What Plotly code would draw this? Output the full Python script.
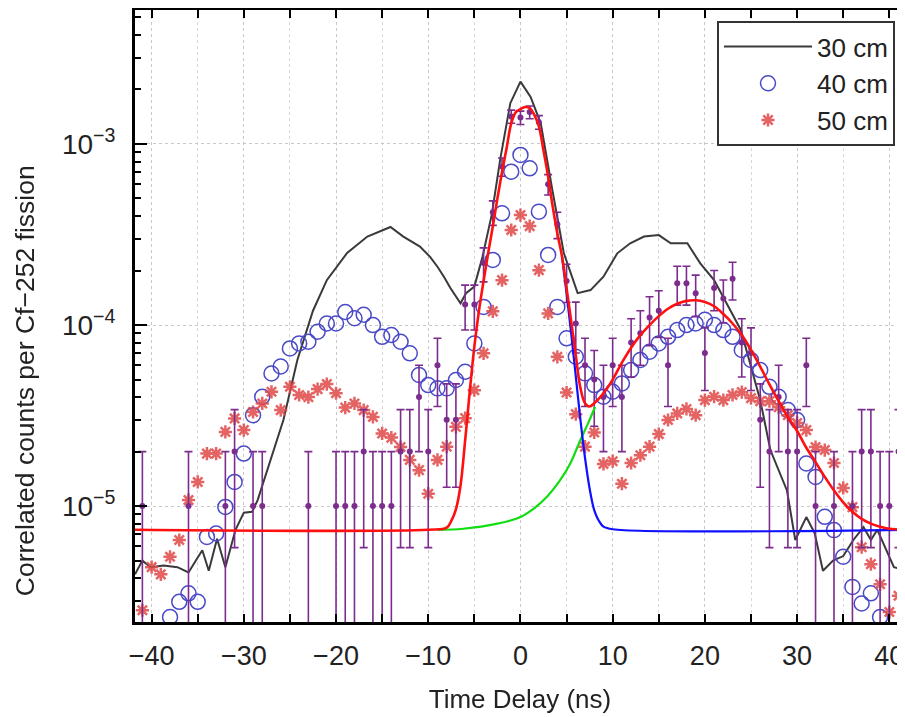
import plotly.graph_objects as go

# ---- 30 cm (line) ----
x30 = [-41.8, -41.0, -40.1, -38.7, -37.2, -36.0, -35.0, -34.5, -33.8, -32.9, -32.0, -30.9, -30.0,
       -29.1, -28.5, -27.1, -25.7, -24.2, -22.5, -21.0, -18.8, -16.6, -14.1, -12.7, -10.9, -9.8,
       -9.0, -8.3, -7.6, -6.5, -5.9, -5.0, -4.1, -3.1, -2.2, -1.1, 0.0, 1.1, 2.2, 3.4, 4.7, 6.2,
       7.6, 9.0, 10.5, 11.9, 13.4, 15.0, 16.3, 18.1, 19.5, 21.0, 22.0, 23.9, 26.0, 27.1, 28.9,
       29.8, 31.0, 31.9, 32.8, 33.9, 35.0, 36.1, 37.2, 38.0, 38.7, 39.8, 40.5, 41.8]
y30 = [4.2e-6, 5.0e-6, 4.6e-6, 4.7e-6, 4.6e-6, 4.3e-6, 5.2e-6, 5.7e-6, 4.4e-6, 6.6e-6, 4.6e-6,
       7.4e-6, 9.2e-6, 9.3e-6, 1.08e-5, 1.8e-5, 3.0e-5, 6.4e-5, 1.2e-4, 1.77e-4, 2.5e-4, 3.08e-4,
       3.48e-4, 3.08e-4, 2.71e-4, 2.38e-4, 2.1e-4, 1.85e-4, 1.6e-4, 1.32e-4, 1.5e-4, 1.63e-4,
       2.4e-4, 4.1e-4, 8.2e-4, 1.68e-3, 2.21e-3, 1.82e-3, 1.3e-3, 5.8e-4, 2.5e-4, 1.5e-4,
       1.56e-4, 1.85e-4, 2.49e-4, 2.83e-4, 3.08e-4, 3.14e-4, 2.83e-4, 2.83e-4, 2.19e-4, 1.77e-4,
       1.43e-4, 9.4e-5, 3.85e-5, 2.04e-5, 1.22e-5, 6.5e-6, 8.7e-6, 7.1e-6, 4.4e-6, 5.0e-6,
       5.3e-6, 6.5e-6, 7.66e-6, 6.5e-6, 7.4e-6, 5.5e-6, 4.6e-6, 4.4e-6]

# ---- 40 cm (open circles) ----
x40 = list(range(-38, 40))
y40 = [2.44e-6, 2.96e-6, 3.3e-6, 2.96e-6, 6.76e-6, 7.06e-6, 9.9e-6, 1.36e-5, 1.95e-5, 3.18e-5,
       4.02e-5, 5.4e-5, 5.9e-5, 7.43e-5, 7.92e-5, 8.09e-5, 9.18e-5, 1.02e-4, 1.02e-4, 1.18e-4,
       1.09e-4, 1.14e-4, 1.0e-4, 8.61e-5, 8.81e-5, 8.09e-5, 6.98e-5, 5.3e-5, 4.66e-5, 4.47e-5,
       4.47e-5, 4.97e-5, 5.52e-5, 7.92e-5, 1.26e-4, 2.29e-4, 4.14e-4, 7.03e-4, 8.7e-4, 7.34e-4,
       4.23e-4, 2.44e-4, 1.26e-4, 8.45e-5, 6.68e-5, 5.41e-5, 4.66e-5, 4.02e-5, 4.28e-5, 4.76e-5,
       5.64e-5, 6.41e-5, 7.12e-5, 7.92e-5, 8.61e-5, 9.38e-5, 1.0e-4, 1.02e-4, 1.07e-4, 1.0e-4,
       9.38e-5, 8.61e-5, 7.28e-5, 6.41e-5, 5.64e-5, 4.56e-5, 4.02e-5, 3.39e-5, 2.99e-5, 1.72e-5,
       1.45e-5, 8.73e-6, 7.37e-6, 5.25e-6, 3.58e-6, 2.9e-6, 3.3e-6, 2.44e-6]

# ---- 50 cm (red stars) ----
x50 = list(range(-41, 42))
y50 = [2.66e-6, 4.6e-6, 4.2e-6, 5.25e-6, 6.5e-6, 1.08e-5, 1.36e-5, 1.95e-5, 1.95e-5, 2.57e-5,
       3.05e-5, 2.63e-5, 3.31e-5, 3.69e-5, 4.28e-5, 3.39e-5, 4.56e-5, 4.11e-5, 4.0e-5, 4.43e-5,
       4.72e-5, 4.2e-5, 3.5e-5, 3.69e-5, 3.39e-5, 3.11e-5, 2.52e-5, 2.39e-5, 2.12e-5, 1.8e-5,
       1.58e-5, 1.17e-5, 1.8e-5, 2.13e-5, 2.74e-5, 3.06e-5, 4.37e-5, 6.98e-5, 1.19e-4, 1.77e-4,
       3.35e-4, 4.05e-4, 3.52e-4, 2.01e-4, 1.16e-4, 6.68e-5, 4.24e-5, 3.22e-5, 2.13e-5, 2.55e-5,
       1.71e-5, 1.77e-5, 1.33e-5, 1.73e-5, 1.91e-5, 2.13e-5, 2.5e-5, 2.99e-5, 3.25e-5, 3.44e-5,
       3.18e-5, 3.85e-5, 4.02e-5, 3.85e-5, 4.11e-5, 4.26e-5, 3.95e-5, 3.8e-5, 3.8e-5, 3.52e-5,
       3.18e-5, 2.88e-5, 2.63e-5, 2.12e-5, 2.04e-5, 1.73e-5, 1.26e-5, 9.87e-6, 5.93e-6, 4.78e-6,
       3.7e-6, 2.6e-6, 3.2e-6]

# ---- measured data with error bars (purple) ----
xm = [-41, -36, -32, -31, -29, -28, -23, -20, -19, -18, -17, -16, -15, -14, -13, -12, -11, -10,
      -9, -8, -7, -6, -5, -4, -3, -2, -1, 0, 1, 2, 3, 4, 5, 6, 7, 8, 9, 10, 11, 12, 13, 14, 15,
      16, 17, 18, 19, 20, 21, 22, 23, 24, 25, 26, 27, 28, 29, 30, 31, 32, 34, 36, 37, 38, 39, 40, 41]
ym = [1e-5, 1e-5, 1e-5, 2e-5, 1e-5, 1e-5, 1e-5, 1e-5, 1e-5, 1e-5, 2e-5, 1e-5, 1e-5, 1e-5, 2e-5,
      2e-5, 4e-5, 2e-5, 6e-5, 3e-5, 3e-5, 1.3e-4, 1.3e-4, 2.2e-4, 4.2e-4, 7.5e-4, 1.42e-3, 1.4e-3,
      1.5e-3, 1.32e-3, 6.0e-4, 3.6e-4, 1.75e-4, 1.02e-4, 6e-5, 5e-5, 4e-5, 6e-5, 4e-5, 8e-5, 9e-5,
      1.1e-4, 1.2e-4, 6e-5, 1.7e-4, 1.7e-4, 1.5e-4, 7e-5, 1.6e-4, 1.4e-4, 1.8e-4, 8e-5, 7e-5,
      3e-5, 2e-5, 4e-5, 2e-5, 2e-5, 6e-5, 1e-5, 1e-5, 1e-5, 2e-5, 2e-5, 1e-5, 1e-5, 2e-5]
em = [1e-5, 1e-5, 1e-5, 1.41e-5, 1e-5, 1e-5, 1e-5, 1e-5, 1e-5, 1e-5, 1.41e-5, 1e-5, 1e-5, 1e-5,
      1.41e-5, 1.41e-5, 2e-5, 1.41e-5, 2.45e-5, 1.73e-5, 1.73e-5, 3.61e-5, 3.61e-5, 4.69e-5,
      6.48e-5, 8.66e-5, 1.19e-4, 1.18e-4, 1.22e-4, 1.15e-4, 7.75e-5, 6.0e-5, 4.18e-5, 3.19e-5,
      2.45e-5, 2.24e-5, 2e-5, 2.45e-5, 2e-5, 2.83e-5, 3e-5, 3.32e-5, 3.46e-5, 2.45e-5, 4.12e-5,
      4.12e-5, 3.87e-5, 2.65e-5, 4e-5, 3.74e-5, 4.24e-5, 2.83e-5, 2.65e-5, 1.73e-5, 1.41e-5,
      2e-5, 1.41e-5, 1.41e-5, 2.45e-5, 1e-5, 1e-5, 1e-5, 1.41e-5, 1.41e-5, 1e-5, 1e-5, 1.41e-5]

# ---- fit curves ----
xfit = [-41.8, -10, -8, -7.5, -7, -6.5, -6, -5.5, -5, -4.5, -4, -3.5, -3, -2.5, -2, -1.5, -1, -0.5,
        0, 0.5, 1, 1.5, 2, 2.5, 3, 3.5, 4, 4.5, 5, 5.5, 6, 6.5, 7, 7.5, 8, 9, 10, 11, 12, 13, 14,
        15, 16, 17, 18, 19, 20, 21, 22, 23, 24, 25, 26, 27, 28, 29, 30, 31, 32, 33, 34, 35, 36, 37,
        38, 39, 40, 41.8]
yfit = [7.4e-6, 7.4e-6, 7.6e-6, 8.3e-6, 9.6e-6, 1.3e-5, 2.3e-5, 4.3e-5, 7.6e-5, 1.2e-4, 1.75e-4,
        2.5e-4, 3.5e-4, 5.0e-4, 7.0e-4, 9.5e-4, 1.3e-3, 1.5e-3, 1.56e-3, 1.6e-3, 1.58e-3, 1.45e-3,
        1.25e-3, 9.2e-4, 6.6e-4, 4.5e-4, 3.2e-4, 2.4e-4, 1.6e-4, 1.05e-4, 6.8e-5, 4.5e-5, 3.7e-5,
        3.55e-5, 3.7e-5, 4.2e-5, 5.0e-5, 6.2e-5, 7.5e-5, 8.8e-5, 1.0e-4, 1.12e-4, 1.23e-4, 1.31e-4,
        1.36e-4, 1.37e-4, 1.34e-4, 1.27e-4, 1.15e-4, 1.02e-4, 8.8e-5, 7.3e-5, 5.9e-5, 4.7e-5,
        3.8e-5, 3.1e-5, 2.6e-5, 2.1e-5, 1.75e-5, 1.45e-5, 1.22e-5, 1.05e-5, 9.3e-6, 8.5e-6, 8.0e-6,
        7.7e-6, 7.5e-6, 7.4e-6]

xgreen = [-9, -6.2, -2.5, 0, 1.45, 2.9, 4.3, 5.4, 6.5, 7.4, 8.1]
ygreen = [7.4e-6, 7.5e-6, 8.0e-6, 8.7e-6, 9.7e-6, 1.13e-5, 1.39e-5, 1.72e-5, 2.32e-5, 2.92e-5, 3.54e-5]

xblue = [4.5, 5.0, 5.5, 6.0, 6.5, 7.0, 7.5, 8.0, 8.5, 9.0, 10.0, 41.8]
yblue = [2.4e-4, 1.5e-4, 9.0e-5, 5.2e-5, 3.0e-5, 1.85e-5, 1.25e-5, 9.5e-6, 8.3e-6, 7.7e-6, 7.45e-6, 7.4e-6]

xticks = [-40, -30, -20, -10, 0, 10, 20, 30, 40]
yticks = [1e-5, 1e-4, 1e-3]
ytick_text = ["10<sup>−5</sup>", "10<sup>−4</sup>", "10<sup>−3</sup>"]

FONT = "Liberation Sans, Arial, Helvetica, sans-serif"
PURPLE = "#7b2c8c"

fig = go.Figure()
fig.add_trace(go.Scatter(x=x30, y=y30, mode="lines", name="30 cm",
                         line=dict(color="#3a3a3a", width=2)))
fig.add_trace(go.Scatter(x=x40, y=y40, mode="markers", name="40 cm",
                         marker=dict(symbol="circle-open", size=15, color="#4a4ac8",
                                     line=dict(width=1.5, color="#4a4ac8"))))
fig.add_trace(go.Scatter(x=x50, y=y50, mode="markers", name="50 cm",
                         marker=dict(symbol="asterisk-open", size=11, color="#e04848",
                                     line=dict(width=2.5, color="#e04848")), opacity=0.85))
fig.add_trace(go.Scatter(x=xm, y=ym, mode="markers", showlegend=False,
                         marker=dict(symbol="circle", size=6, color=PURPLE),
                         error_y=dict(type="data", array=em, color=PURPLE, thickness=1.6, width=4)))
fig.add_trace(go.Scatter(x=xgreen, y=ygreen, mode="lines", showlegend=False,
                         line=dict(color="#11dd11", width=2.2, shape="spline")))
fig.add_trace(go.Scatter(x=xblue, y=yblue, mode="lines", showlegend=False,
                         line=dict(color="#1010ff", width=2.2, shape="spline")))
fig.add_trace(go.Scatter(x=xfit, y=yfit, mode="lines", showlegend=False,
                         line=dict(color="#ff1010", width=2.6, shape="spline")))

# page body has an 8 px margin, so the figure is sized to fill the window from there
fig.update_layout(
    width=897, height=709,
    margin=dict(l=127, r=0, t=2, b=95, autoexpand=False),
    paper_bgcolor="white", plot_bgcolor="white",
    font=dict(family=FONT, size=24, color="#222"),
    showlegend=True,
    legend=dict(x=0.987, y=0.982, xanchor="right", yanchor="top",
                bgcolor="white", bordercolor="#333", borderwidth=2,
                font=dict(size=26, color="#222"), itemwidth=88, tracegroupgap=0),
    annotations=[dict(text="Correlated counts per Cf−252 fission", textangle=-90,
                      xref="paper", yref="paper", x=-0.165, y=0.395,
                      showarrow=False, font=dict(size=26.5, color="#222"))],
)
fig.update_xaxes(
    range=[-41.8, 41.7], tickvals=xticks, ticks="inside", ticklen=8, tickwidth=2,
    tickcolor="black", showline=True, linewidth=3, linecolor="black", mirror="allticks",
    showgrid=True, gridcolor="#c8c8c8", griddash="dot", gridwidth=1, zeroline=False,
    tickfont=dict(size=27, color="#222"), ticklabelstandoff=8, automargin=False,
    minor=dict(dtick=5, tick0=0, ticks="inside", ticklen=8, tickwidth=2, tickcolor="black",
               showgrid=True, gridcolor="#d8d8d8", griddash="dot"),
    title=dict(text="Time Delay (ns)", font=dict(size=26, color="#222"), standoff=20),
)
fig.update_yaxes(
    type="log", range=[-5.64, -2.26], tickvals=yticks, ticktext=ytick_text,
    ticks="inside", ticklen=12, tickwidth=2, tickcolor="black",
    showline=True, linewidth=3, linecolor="black", mirror=False,
    showgrid=True, gridcolor="#c8c8c8", griddash="dot", gridwidth=1, zeroline=False,
    tickfont=dict(size=28, color="#222"), ticklabelstandoff=11, automargin=False,
    minor=dict(dtick="D1", ticks="inside", ticklen=6, tickwidth=2, tickcolor="black",
               showgrid=False),
)

fig.write_html("out.html")
